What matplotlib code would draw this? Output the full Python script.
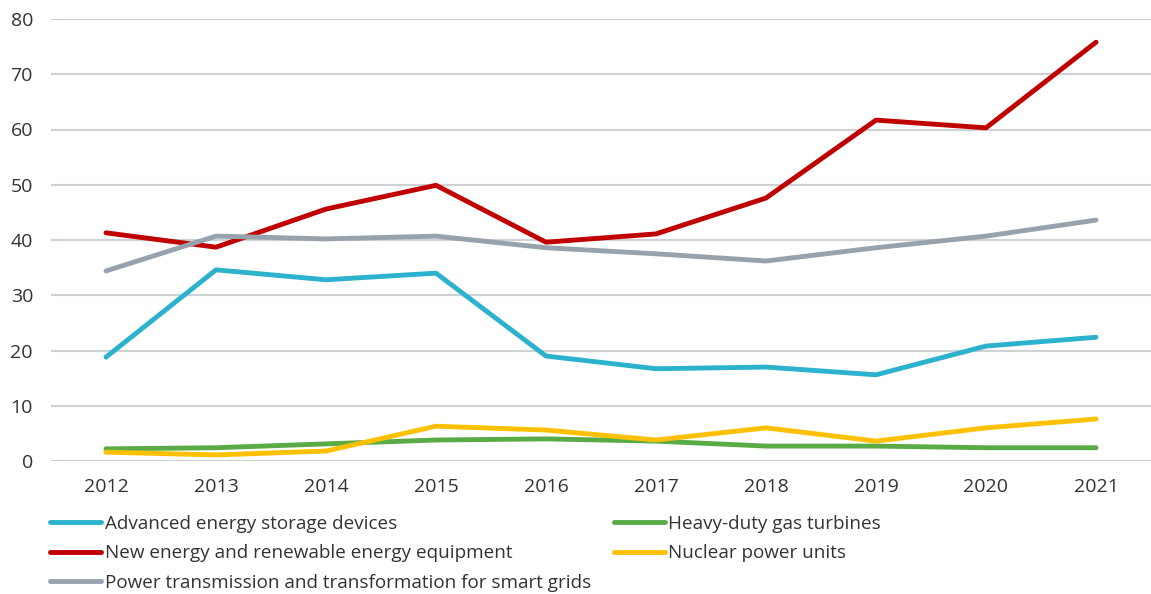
import matplotlib.pyplot as plt
from matplotlib import font_manager

years = ['2012', '2013', '2014', '2015', '2016', '2017', '2018', '2019', '2020', '2021']

storage = [18.8, 34.6, 32.8, 34.0, 19.0, 16.7, 17.0, 15.6, 20.8, 22.4]
gas_turbines = [2.2, 2.4, 3.1, 3.8, 4.0, 3.6, 2.7, 2.7, 2.4, 2.4]
renewable = [41.3, 38.7, 45.6, 49.9, 39.6, 41.1, 47.6, 61.7, 60.3, 75.8]
nuclear = [1.6, 1.1, 1.8, 6.3, 5.6, 3.8, 6.0, 3.6, 6.0, 7.6]
smart_grids = [34.4, 40.7, 40.2, 40.7, 38.6, 37.5, 36.2, 38.6, 40.7, 43.6]

names = {
    'storage': 'Advanced energy storage devices',
    'gas': 'Heavy-duty gas turbines',
    'renew': 'New energy and renewable energy equipment',
    'nuclear': 'Nuclear power units',
    'grid': 'Power transmission and transformation for smart grids',
}

installed = {f.name for f in font_manager.fontManager.ttflist}
fam = [f for f in ['Liberation Sans Narrow', 'Open Sans', 'DejaVu Sans'] if f in installed]
plt.rcParams['font.family'] = fam

fig = plt.figure(figsize=(11.51, 5.94), dpi=100)
ax = fig.add_axes([51 / 1151, 1 - 461 / 594, 1 - 51 / 1151, (461 - 19) / 594])

x = range(len(years))
lw = 3.5
h_storage, = ax.plot(x, storage, color='#2cb2cc', lw=lw, solid_capstyle='round', zorder=3)
h_renew, = ax.plot(x, renewable, color='#c00000', lw=lw, solid_capstyle='round', zorder=3)
h_grid, = ax.plot(x, smart_grids, color='#97a3ac', lw=lw, solid_capstyle='round', zorder=3)
h_gas, = ax.plot(x, gas_turbines, color='#5aab46', lw=lw, solid_capstyle='round', zorder=3)
h_nuc, = ax.plot(x, nuclear, color='#ffc000', lw=lw, solid_capstyle='round', zorder=4)

ax.set_xlim(-0.5, len(years) - 0.5)
ax.set_ylim(0, 80)
ax.set_yticks(range(0, 81, 10))
ax.set_xticks(list(x))
ax.set_xticklabels(years)
ax.yaxis.grid(True, color='#cfd2d4', lw=1.6, zorder=0)
ax.set_axisbelow(True)
for s in ax.spines.values():
    s.set_visible(False)
ax.tick_params(axis='both', length=0, labelsize=14, colors='#333333')
ax.tick_params(axis='x', pad=12)
ax.tick_params(axis='y', pad=13)

fig.legend([h_storage, h_renew, h_grid, h_gas, h_nuc],
           [names['storage'], names['renew'], names['grid'], names['gas'], names['nuclear']],
           ncol=2, loc='upper left', bbox_to_anchor=(50 / 1151, 1 - 515 / 594),
           frameon=False, fontsize=13.6, handlelength=2.7, handletextpad=0.2,
           columnspacing=1.2, labelspacing=0.6, borderaxespad=0, borderpad=0,
           labelcolor='#333333')

fig.savefig('out.png', dpi=100)
